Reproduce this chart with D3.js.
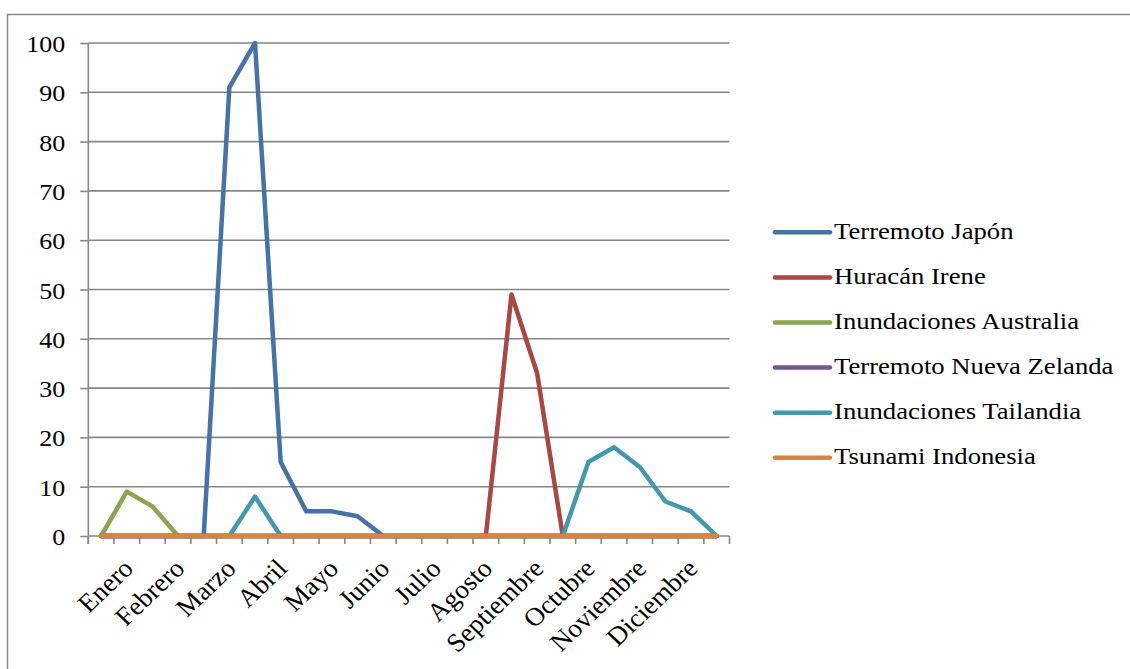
<!doctype html>
<html lang="es">
<head>
  <meta charset="utf-8">
  <title>Desastres 2011</title>
  <script src="https://d3js.org/d3.v7.min.js"></script>
  <style>
    body { margin: 0; background: #fff; }
    text { font-family: "Liberation Serif", "Times New Roman", serif; fill: #000; }
  </style>
</head>
<body>
<svg id="chart" width="1130" height="669"></svg>
<script>
// one entry per half month, month name on every second one
var categories = ["", "Enero", "", "Febrero", "", "Marzo", "", "Abril", "", "Mayo", "", "Junio",
  "", "Julio", "", "Agosto", "", "Septiembre", "", "Octubre", "", "Noviembre", "", "Diciembre", ""];

var seriesNames = ["Terremoto Japón", "Huracán Irene", "Inundaciones Australia",
  "Terremoto Nueva Zelanda", "Inundaciones Tailandia", "Tsunami Indonesia"];
var seriesColors = ["#4572A7", "#AA4643", "#89A54E", "#71588F", "#4198AF", "#DB843D"];

var japon      = [0, 0, 0, 0, 0, 91, 100, 15, 5, 5, 4, 0, 0, 0, 0, 0, 0, 0, 0, 0, 0, 0, 0, 0, 0];
var irene      = [0, 0, 0, 0, 0, 0, 0, 0, 0, 0, 0, 0, 0, 0, 0, 0, 49, 33, 0, 0, 0, 0, 0, 0, 0];
var australia  = [0, 9, 6, 0, 0, 0, 0, 0, 0, 0, 0, 0, 0, 0, 0, 0, 0, 0, 0, 0, 0, 0, 0, 0, 0];
var nzelanda   = [0, 0, 0, 0, 0, 0, 0, 0, 0, 0, 0, 0, 0, 0, 0, 0, 0, 0, 0, 0, 0, 0, 0, 0, 0];
var tailandia  = [0, 0, 0, 0, 0, 0, 8, 0, 0, 0, 0, 0, 0, 0, 0, 0, 0, 0, 0, 15, 18, 14, 7, 5, 0];
var indonesia  = [0, 0, 0, 0, 0, 0, 0, 0, 0, 0, 0, 0, 0, 0, 0, 0, 0, 0, 0, 0, 0, 0, 0, 0, 0];

var yTicks = [0, 10, 20, 30, 40, 50, 60, 70, 80, 90, 100];

var allSeries = [japon, irene, australia, nzelanda, tailandia, indonesia];

var svg = d3.select("#chart");
var fontSize = 23, sx = 1.13;   // the picture is a bit wider than tall
var grey = "#878787";

// outer frame
svg.append("rect")
  .attr("x", 7.5).attr("y", 14.5)
  .attr("width", 1200).attr("height", 700)
  .attr("fill", "none").attr("stroke", grey).attr("stroke-width", 1.5);

var plotLeft = 88.3, plotRight = 729.5, plotTop = 43, plotBottom = 536;

var x = d3.scaleBand()
  .domain(d3.range(categories.length))
  .range([plotLeft, plotRight])
  .padding(0);
var y = d3.scaleLinear().domain([0, 100]).range([plotBottom, plotTop]);
var cx = function(i) { return x(i) + x.bandwidth() / 2; };

// horizontal grid
svg.append("g").selectAll("line")
  .data(yTicks.filter(function(d) { return d > 0; }))
  .enter().append("line")
    .attr("x1", plotLeft).attr("x2", plotRight)
    .attr("y1", function(d) { return y(d); })
    .attr("y2", function(d) { return y(d); })
    .attr("stroke", grey).attr("stroke-width", 1.6);

// y axis
var yAxis = d3.axisLeft(y).tickValues(yTicks).tickSize(8).tickSizeOuter(0);
var gy = svg.append("g").attr("transform", "translate(" + plotLeft + ",0)").call(yAxis);
gy.select(".domain").attr("stroke", grey).attr("stroke-width", 1.6)
  .attr("d", "M0," + plotTop + "V" + (plotBottom + 8));
gy.selectAll(".tick line").attr("stroke", grey).attr("stroke-width", 1.6);
gy.selectAll(".tick text")
  .attr("x", null).attr("dy", null)
  .attr("text-anchor", "end")
  .attr("fill", "#000")
  .style("font-size", fontSize + "px")
  .style("font-family", "Liberation Serif")
  .attr("transform", "translate(-23,8.5) scale(" + sx + ",1)");

// x axis: ticks between categories
var boundaries = d3.range(categories.length).map(function(i) { return x(i); }).concat([plotRight]);
svg.append("line")
  .attr("x1", plotLeft).attr("x2", plotRight).attr("y1", plotBottom).attr("y2", plotBottom)
  .attr("stroke", grey).attr("stroke-width", 1.6);
svg.append("g").selectAll("line")
  .data(boundaries)
  .enter().append("line")
    .attr("x1", function(d) { return d; }).attr("x2", function(d) { return d; })
    .attr("y1", plotBottom).attr("y2", plotBottom + 8)
    .attr("stroke", grey).attr("stroke-width", 1.6);

svg.append("g").selectAll("text")
  .data(categories.map(function(c, i) { return {c: c, i: i}; }).filter(function(d) { return d.c !== ""; }))
  .enter().append("text")
    .attr("text-anchor", "end")
    .style("font-size", "26px")
    .attr("transform", function(d) {
      return "translate(" + (cx(d.i) + 8) + "," + (plotBottom + 34) + ") scale(1.05,1) rotate(-45)";
    })
    .text(function(d) { return d.c; });

// series lines
var line = d3.line()
  .x(function(d, i) { return cx(i); })
  .y(function(d) { return y(d); });

svg.append("g").selectAll("path")
  .data(allSeries)
  .enter().append("path")
    .attr("d", line)
    .attr("fill", "none")
    .attr("stroke", function(d, i) { return seriesColors[i]; })
    .attr("stroke-width", 4.5)
    .attr("stroke-linejoin", "round")
    .attr("stroke-linecap", "round");

// legend
var legend = svg.append("g").selectAll("g")
  .data(seriesNames)
  .enter().append("g")
    .attr("transform", function(d, i) { return "translate(775," + (232.3 + i * 45.1) + ")"; });
legend.append("line")
  .attr("x1", 0).attr("x2", 55)
  .attr("stroke", function(d, i) { return seriesColors[i]; })
  .attr("stroke-width", 4.5)
  .attr("stroke-linecap", "round");
legend.append("text")
  .attr("transform", "translate(59,6.5) scale(1.16,1)")
  .style("font-size", fontSize + "px")
  .text(function(d) { return d; });
</script>
</body>
</html>
